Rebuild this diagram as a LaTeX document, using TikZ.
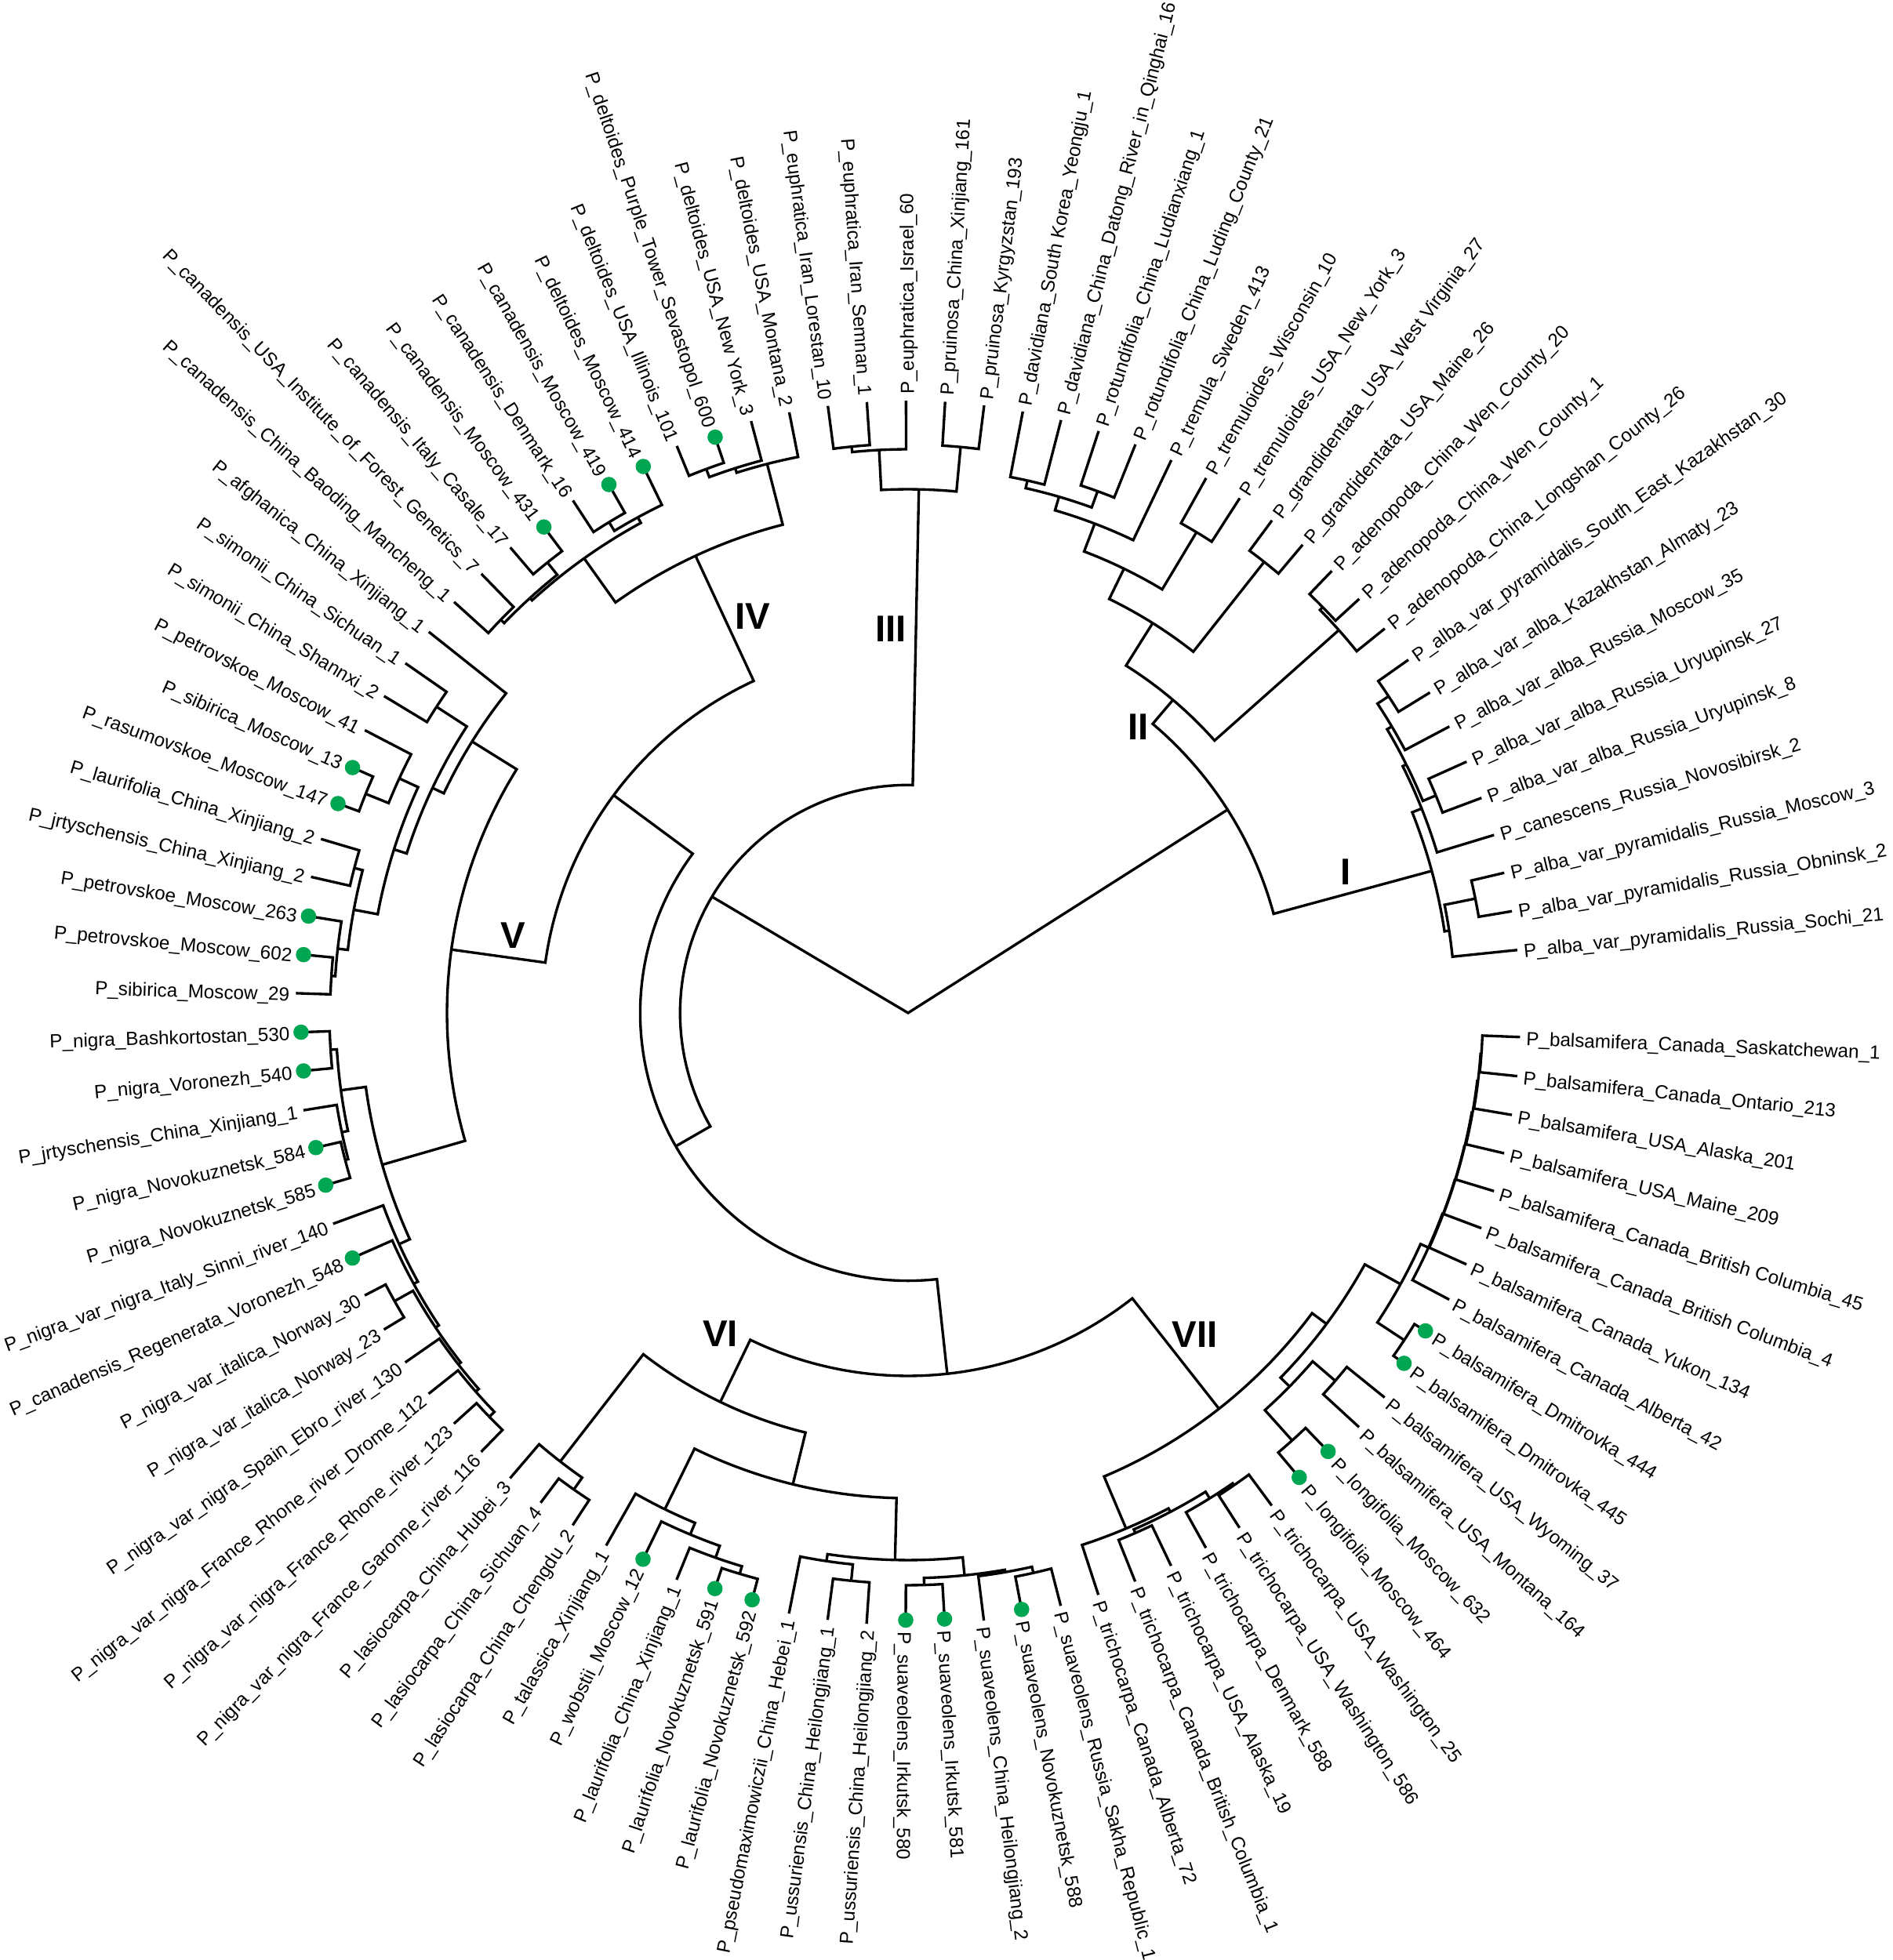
\documentclass[tikz,border=0pt]{standalone}
\usepackage{fontspec}
\setmainfont{Liberation Sans}
\usepackage{tikz}
\usetikzlibrary{calc}
\definecolor{leafgreen}{HTML}{00A651}
\tikzstyle{branch} = [line width=0.95pt, color=black]

% radial line from a child out to its parent's radius, then the arc to the parent
\newcommand{\branch}[2]{%
  \draw[branch] let \p1=(#1), \p2=(#2),
    \n1={atan2(\y1,\x1)}, \n2={atan2(\y2,\x2)}, \n3={veclen(\x2,\y2)},
    \n4={(\n2)-(\n1)}, \n5={(\n4)+360*((\n4)<(-180))-360*((\n4)>180)}
  in (#1) -- ({\n1}:{\n3*1pt}) arc[start angle={\n1}, delta angle={\n5}, radius={\n3*1pt}];%
}
% clade #1 joins #2 and #3 at radius #4
\newcommand{\clade}[4]{%
  \path let \p1=(#2), \p2=(#3),
    \n1={atan2(\y1,\x1)}, \n2={atan2(\y2,\x2)},
    \n3={(\n2)-(\n1)}, \n4={(\n3)+360*((\n3)<(-180))-360*((\n3)>180)}
  in coordinate (#1) at ({\n1+\n4/2}:#4);%
  \branch{#2}{#1}\branch{#3}{#1}%
}

\def\leaflist{0/sochi/alba\_var\_pyramidalis\_Russia\_Sochi\_21/0,
1/obninsk/alba\_var\_pyramidalis\_Russia\_Obninsk\_2/0,
2/pymos/alba\_var\_pyramidalis\_Russia\_Moscow\_3/0,
3/canesc/canescens\_Russia\_Novosibirsk\_2/0,
4/ury8/alba\_var\_alba\_Russia\_Uryupinsk\_8/0,
5/ury27/alba\_var\_alba\_Russia\_Uryupinsk\_27/0,
6/almos/alba\_var\_alba\_Russia\_Moscow\_35/0,
7/almaty/alba\_var\_alba\_Kazakhstan\_Almaty\_23/0,
8/sekaz/alba\_var\_pyramidalis\_South\_East\_Kazakhstan\_30/0,
9/longshan/adenopoda\_China\_Longshan\_County\_26/0,
10/wen1/adenopoda\_China\_Wen\_County\_1/0,
11/wen20/adenopoda\_China\_Wen\_County\_20/0,
12/grmaine/grandidentata\_USA\_Maine\_26/0,
13/grwv/grandidentata\_USA\_West Virginia\_27/0,
14/trny/tremuloides\_USA\_New\_York\_3/0,
15/trwis/tremuloides\_Wisconsin\_10/0,
16/trswe/tremula\_Sweden\_413/0,
17/rotlud/rotundifolia\_China\_Luding\_County\_21/0,
18/rotlux/rotundifolia\_China\_Ludianxiang\_1/0,
19/davdat/davidiana\_China\_Datong\_River\_in\_Qinghai\_16/0,
20/davkor/davidiana\_South Korea\_Yeongju\_1/0,
21/prkyr/pruinosa\_Kyrgyzstan\_193/0,
22/prxin/pruinosa\_China\_Xinjiang\_161/0,
23/euisr/euphratica\_Israel\_60/0,
24/eusem/euphratica\_Iran\_Semnan\_1/0,
25/eulor/euphratica\_Iran\_Lorestan\_10/0,
26/demont/deltoides\_USA\_Montana\_2/0,
27/deny/deltoides\_USA\_New York\_3/0,
28/desev/deltoides\_Purple\_Tower\_Sevastopol\_600/1,
29/deill/deltoides\_USA\_Illinois\_101/0,
30/demos/deltoides\_Moscow\_414/1,
31/ca419/canadensis\_Moscow\_419/1,
32/caden/canadensis\_Denmark\_16/0,
33/ca431/canadensis\_Moscow\_431/1,
34/caita/canadensis\_Italy\_Casale\_17/0,
35/causa/canadensis\_USA\_Institute\_of\_Forest\_Genetics\_7/0,
36/cachn/canadensis\_China\_Baoding\_Mancheng\_1/0,
37/afgh/afghanica\_China\_Xinjiang\_1/0,
38/simsic/simonii\_China\_Sichuan\_1/0,
39/simsha/simonii\_China\_Shannxi\_2/0,
40/pet41/petrovskoe\_Moscow\_41/0,
41/sib13/sibirica\_Moscow\_13/1,
42/ras147/rasumovskoe\_Moscow\_147/1,
43/laur2/laurifolia\_China\_Xinjiang\_2/0,
44/jrt2/jrtyschensis\_China\_Xinjiang\_2/0,
45/pet263/petrovskoe\_Moscow\_263/1,
46/pet602/petrovskoe\_Moscow\_602/1,
47/sib29/sibirica\_Moscow\_29/0,
48/nibash/nigra\_Bashkortostan\_530/1,
49/nivor/nigra\_Voronezh\_540/1,
50/jrt1/jrtyschensis\_China\_Xinjiang\_1/0,
51/ni584/nigra\_Novokuznetsk\_584/1,
52/ni585/nigra\_Novokuznetsk\_585/1,
53/nisin/nigra\_var\_nigra\_Italy\_Sinni\_river\_140/0,
54/caregen/canadensis\_Regenerata\_Voronezh\_548/1,
55/nor30/nigra\_var\_italica\_Norway\_30/0,
56/nor23/nigra\_var\_italica\_Norway\_23/0,
57/niebro/nigra\_var\_nigra\_Spain\_Ebro\_river\_130/0,
58/nidrome/nigra\_var\_nigra\_France\_Rhone\_river\_Drome\_112/0,
59/nirhone/nigra\_var\_nigra\_France\_Rhone\_river\_123/0,
60/nigaron/nigra\_var\_nigra\_France\_Garonne\_river\_116/0,
61/lahub/lasiocarpa\_China\_Hubei\_3/0,
62/lasic/lasiocarpa\_China\_Sichuan\_4/0,
63/lacd/lasiocarpa\_China\_Chengdu\_2/0,
64/talas/talassica\_Xinjiang\_1/0,
65/wobst/wobstii\_Moscow\_12/1,
66/laur1/laurifolia\_China\_Xinjiang\_1/0,
67/la591/laurifolia\_Novokuznetsk\_591/1,
68/la592/laurifolia\_Novokuznetsk\_592/1,
69/pseudo/pseudomaximowiczii\_China\_Hebei\_1/0,
70/uss1/ussuriensis\_China\_Heilongjiang\_1/0,
71/uss2/ussuriensis\_China\_Heilongjiang\_2/0,
72/su580/suaveolens\_Irkutsk\_580/1,
73/su581/suaveolens\_Irkutsk\_581/1,
74/suhei/suaveolens\_China\_Heilongjiang\_2/0,
75/su588/suaveolens\_Novokuznetsk\_588/1,
76/susak/suaveolens\_Russia\_Sakha\_Republic\_1/0,
77/tralb/trichocarpa\_Canada\_Alberta\_72/0,
78/trbc/trichocarpa\_Canada\_British\_Columbia\_1/0,
79/trak/trichocarpa\_USA\_Alaska\_19/0,
80/trden/trichocarpa\_Denmark\_588/0,
81/trwa586/trichocarpa\_USA\_Washington\_586/0,
82/trwa25/trichocarpa\_USA\_Washington\_25/0,
83/lo464/longifolia\_Moscow\_464/1,
84/lo632/longifolia\_Moscow\_632/1,
85/bamont/balsamifera\_USA\_Montana\_164/0,
86/bawyo/balsamifera\_USA\_Wyoming\_37/0,
87/ba445/balsamifera\_Dmitrovka\_445/1,
88/ba444/balsamifera\_Dmitrovka\_444/1,
89/baalb/balsamifera\_Canada\_Alberta\_42/0,
90/bayuk/balsamifera\_Canada\_Yukon\_134/0,
91/babc4/balsamifera\_Canada\_British Columbia\_4/0,
92/babc45/balsamifera\_Canada\_British Columbia\_45/0,
93/bamai/balsamifera\_USA\_Maine\_209/0,
94/baak/balsamifera\_USA\_Alaska\_201/0,
95/baont/balsamifera\_Canada\_Ontario\_213/0,
96/basas/balsamifera\_Canada\_Saskatchewan\_1/0}

\begin{document}
\begin{tikzpicture}[
    leaftext/.style={font=\fontsize{6.9}{8}\selectfont, inner sep=0pt, text height=5.8pt, text depth=0pt},
    cladelab/.style={font=\fontsize{13.5}{15}\selectfont\bfseries, inner sep=0pt}
  ]
  \fill[white] (-11.58,-12.08) rectangle (12.56,12.92);
  \useasboundingbox (-11.58,-12.08) rectangle (12.56,12.92);

  % tips and their labels
  \foreach \k/\nm/\txt/\dt in \leaflist {
    \pgfmathsetmacro\th{5.9+3.665*\k}
    \pgfmathtruncatemacro\lft{and(\th>91,\th<268)}
    \coordinate (\nm) at (\th:{7.81-0.065*\dt});
    \ifnum\lft=1
      \node[leaftext, anchor=east, rotate=\th+180] (\nm-t) at (\th:7.885) {P\_\txt};
    \else
      \node[leaftext, anchor=west, rotate=\th] (\nm-t) at (\th:7.885) {P\_\txt};
    \fi
  }

  % I
  \clade{obmo}{obninsk}{pymos}{7.38}
  \clade{soch}{sochi}{obmo}{6.98}
  \clade{ury}{ury8}{ury27}{7.28}
  \clade{alkz}{almaty}{sekaz}{7.34}
  \clade{almo}{almos}{alkz}{7.17}
  \clade{uram}{ury}{almo}{7.10}
  \clade{cnur}{canesc}{uram}{7.05}
  \clade{cI}{soch}{cnur}{6.92}
  % II
  \clade{wen}{wen1}{wen20}{7.40}
  \clade{aden}{longshan}{wen}{7.35}
  \clade{grand}{grmaine}{grwv}{7.33}
  \clade{tremd}{trny}{trwis}{7.15}
  \clade{rotu}{rotlud}{rotlux}{7.08}
  \clade{davi}{davdat}{davkor}{6.96}
  \clade{rotdav}{rotu}{davi}{6.86}
  \clade{trem}{trswe}{rotdav}{6.68}
  \clade{aspq}{tremd}{trem}{6.30}
  \clade{aspp}{grand}{aspq}{5.87}
  \clade{cII}{aden}{aspp}{5.23}
  \clade{rI}{cI}{cII}{4.83}
  % III
  \clade{eupa}{eusem}{eulor}{7.26}
  \clade{eupb}{euisr}{eupa}{7.19}
  \clade{prui}{prkyr}{prxin}{7.25}
  \clade{cIII}{prui}{eupb}{6.68}
  % IV
  \clade{delsi}{desev}{deill}{7.40}
  \clade{delny}{deny}{delsi}{7.29}
  \clade{delt}{demont}{delny}{7.23}
  \clade{cand}{ca419}{caden}{7.33}
  \clade{canm}{demos}{cand}{7.20}
  \clade{canit}{ca431}{caita}{7.36}
  \clade{cangb}{causa}{cachn}{7.22}
  \clade{canb}{canit}{cangb}{7.16}
  \clade{cana}{canm}{canb}{7.12}
  \clade{cIV}{delt}{cana}{6.43}
  % V
  \clade{simo}{simsic}{simsha}{7.17}
  \clade{sira}{sib13}{ras147}{7.46}
  \clade{pesr}{pet41}{sira}{7.145}
  \clade{laju}{laur2}{jrt2}{7.30}
  \clade{pesi}{pet602}{sib29}{7.37}
  \clade{pepe}{pet263}{pesi}{7.32}
  \clade{lajp}{laju}{pepe}{7.19}
  \clade{pelj}{pesr}{lajp}{6.88}
  \clade{simp}{simo}{pelj}{6.71}
  \clade{afgs}{afgh}{simp}{6.55}
  \clade{bavo}{nibash}{nivor}{7.38}
  \clade{novo}{ni584}{ni585}{7.42}
  \clade{jrno}{jrt1}{novo}{7.38}
  \clade{nibv}{bavo}{jrno}{7.30}
  \clade{fra}{nirhone}{nigaron}{7.42}
  \clade{frb}{nidrome}{fra}{7.33}
  \clade{frc}{niebro}{frb}{7.28}
  \clade{norw}{nor30}{nor23}{7.51}
  \clade{frd}{norw}{frc}{7.24}
  \clade{fre}{caregen}{frd}{7.19}
  \clade{frf}{nisin}{fre}{7.13}
  \clade{nigr}{nibv}{frf}{6.98}
  \clade{cV}{afgs}{nigr}{5.88}
  \clade{ivv}{cIV}{cV}{4.67}
  % VI
  \clade{lasb}{lasic}{lacd}{7.425}
  \clade{lasi}{lahub}{lasb}{7.24}
  \clade{lnov}{la591}{la592}{7.47}
  \clade{lxin}{laur1}{lnov}{7.37}
  \clade{wobl}{wobst}{lxin}{7.21}
  \clade{talw}{talas}{wobl}{7.05}
  \clade{ussu}{uss1}{uss2}{7.28}
  \clade{psus}{pseudo}{ussu}{7.07}
  \clade{irk}{su580}{su581}{7.30}
  \clade{sksa}{su588}{susak}{7.32}
  \clade{shsk}{suhei}{sksa}{7.24}
  \clade{suav}{irk}{shsk}{7.21}
  \clade{ussv}{psus}{suav}{6.98}
  \clade{talu}{talw}{ussv}{6.19}
  \clade{cVI}{lasi}{talu}{5.51}
  % VII
  \clade{trwa}{trwa586}{trwa25}{7.32}
  \clade{trdw}{trden}{trwa}{7.29}
  \clade{trba}{trbc}{trak}{7.24}
  \clade{trbd}{trba}{trdw}{7.19}
  \clade{tric}{tralb}{trbd}{7.14}
  \clade{long}{lo464}{lo632}{7.33}
  \clade{bamw}{bamont}{bawyo}{7.19}
  \clade{lobw}{long}{bamw}{6.81}
  \clade{dmit}{ba445}{ba444}{7.58}
  \clade{bqa}{baont}{basas}{7.33}
  \clade{bqb}{baak}{bqa}{7.32}
  \clade{bqc}{bamai}{bqb}{7.31}
  \clade{bqd}{babc45}{bqc}{7.30}
  \clade{bqe}{babc4}{bqd}{7.295}
  \clade{bqf}{bayuk}{bqe}{7.29}
  \clade{bqg}{baalb}{bqf}{7.28}
  \clade{dmbq}{dmit}{bqg}{7.17}
  \clade{bals}{lobw}{dmbq}{6.65}
  \clade{cVII}{tric}{bals}{6.42}
  % backbone
  \clade{vivii}{cVI}{cVII}{4.63}
  \clade{ivvii}{ivv}{vivii}{3.42}
  \clade{inA}{cIII}{ivvii}{2.91}
  \draw[branch] (inA) -- (0,0) -- (rI);

  \foreach \k/\nm/\txt/\dt in \leaflist {
    \ifnum\dt=1 \fill[leafgreen] (\nm) circle (0.098); \fi
  }

  \node[cladelab] (numI) at (5.585,1.795) {I};
  \node[cladelab] (numII) at (2.933,3.65) {II};
  \node[cladelab] (numIII) at (-0.221,4.896) {III};
  \node[cladelab] (numIV) at (-1.98,5.059) {IV};
  \node[cladelab] (numV) at (-5.037,0.985) {V};
  \node[cladelab] (numVI) at (-2.394,-4.09) {VI};
  \node[cladelab] (numVII) at (3.657,-4.099) {VII};
\end{tikzpicture}
\end{document}
